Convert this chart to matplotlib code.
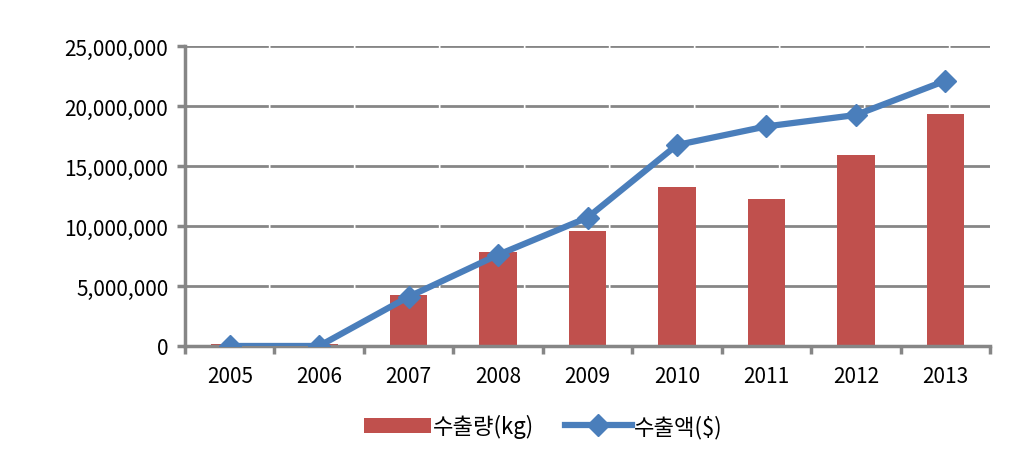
import numpy as np
import matplotlib.pyplot as plt
from matplotlib.ticker import FuncFormatter

plt.rcParams['font.family'] = ['Noto Sans CJK KR', 'DejaVu Sans']

years = ['2005', '2006', '2007', '2008', '2009', '2010', '2011', '2012', '2013']
volume_kg = [200000, 200000, 4250000, 7800000, 9600000, 13250000, 12250000, 15900000, 19300000]
value_usd = [0, 0, 4100000, 7600000, 10700000, 16750000, 18300000, 19250000, 22100000]

fig = plt.figure(figsize=(10.24, 4.64), dpi=100)
ax = fig.add_axes([0.1807, 0.2522, 0.7861, 0.6465])

x = np.arange(len(years))
bars = ax.bar(x, volume_kg, width=0.42, color='#C0504D', label='수출량(kg)', zorder=2)
line, = ax.plot(x, value_usd, color='#4A7EBB', lw=4.5, marker='D', ms=11,
                label='수출액($)', zorder=3)

ax.set_xlim(-0.5, len(years) - 0.5)
ax.set_ylim(0, 25000000)
ax.set_yticks(np.arange(0, 25000001, 5000000))
ax.yaxis.set_major_formatter(FuncFormatter(lambda v, p: '{:,.0f}'.format(v)))
ax.set_xticks(x)
ax.set_xticklabels(years)
ax.set_xticks(np.arange(-0.5, len(years)), minor=True)

grey = '#868686'
ax.grid(axis='y', color=grey, lw=2, linestyle=(0, (30, 0.6)), zorder=0)
ax.set_axisbelow(True)
for s in ['top', 'right']:
    ax.spines[s].set_visible(False)
for s in ['left', 'bottom']:
    ax.spines[s].set_color(grey)
    ax.spines[s].set_linewidth(2.5)

ax.tick_params(axis='x', which='major', length=0, pad=14, labelsize=15)
ax.tick_params(axis='x', which='minor', length=6, width=2.5, color=grey)
ax.tick_params(axis='y', length=6, width=2.5, color=grey, labelsize=15, pad=6)

ax.legend([bars, line], ['수출량(kg)', '수출액($)'], loc='upper center',
          bbox_to_anchor=(0.445, -0.16), ncol=2, frameon=False,
          fontsize=16, handlelength=3, columnspacing=1.4, handletextpad=0.1)

plt.savefig('out.png', dpi=100)
